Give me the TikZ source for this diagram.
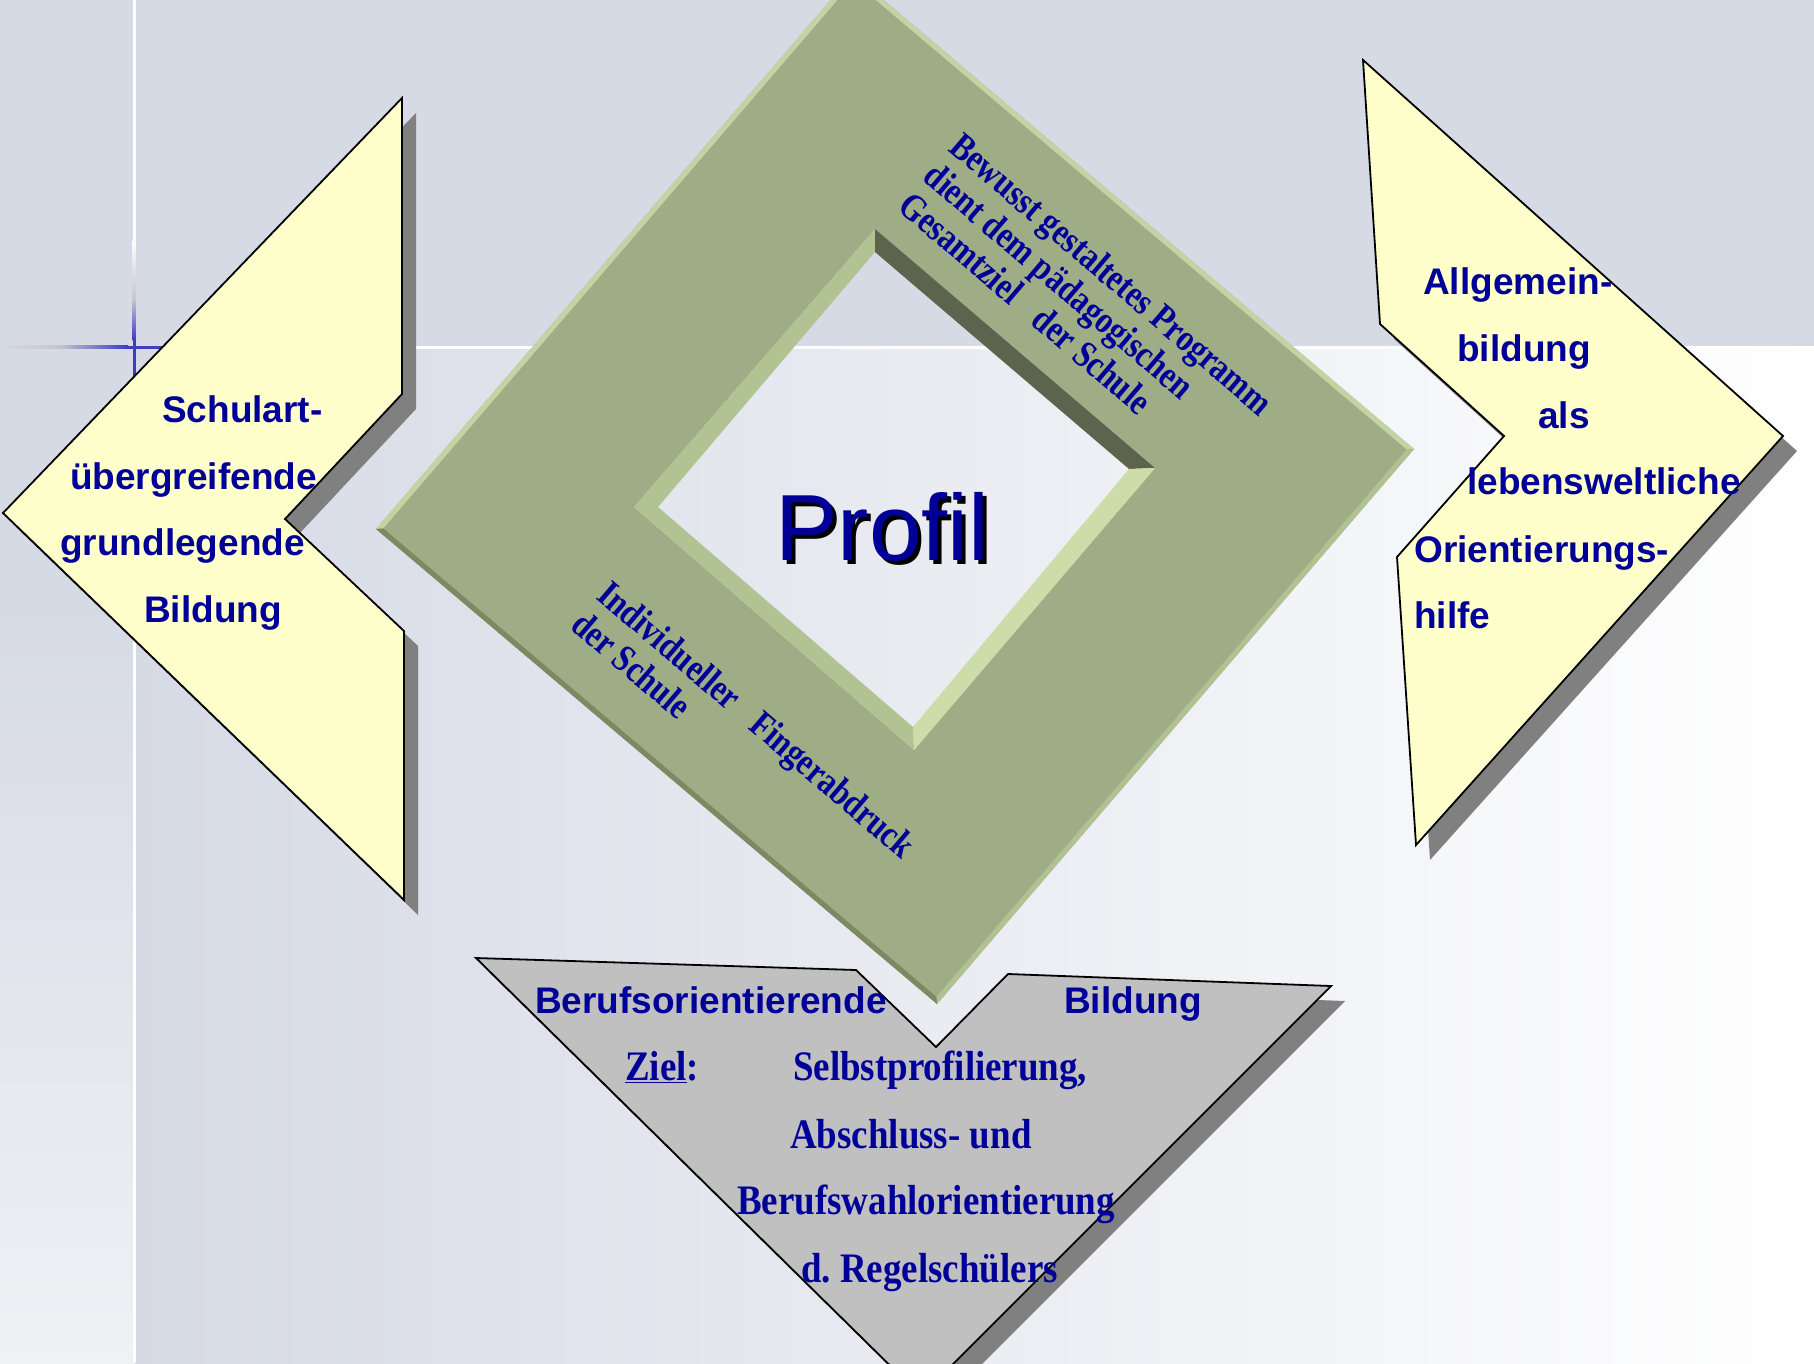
\documentclass[tikz,border=0pt]{standalone}
\usepackage{fontspec}
\setmainfont{Liberation Serif}
\setsansfont{Liberation Sans}
\usetikzlibrary{calc}
\definecolor{bgblue}{HTML}{D6DAE5}
\definecolor{bglight}{HTML}{F0F1F5}
\definecolor{txtblue}{HTML}{000099}
\definecolor{crossblue}{HTML}{3C3CC8}
\definecolor{linegray}{HTML}{C4C4CC}
\definecolor{framegreen}{HTML}{9EAD85}
\definecolor{edgelight}{HTML}{C3D3A3}
\definecolor{edgemid}{HTML}{B0C192}
\definecolor{edgedark}{HTML}{7C8963}
\definecolor{walldark}{HTML}{5C644D}
\definecolor{walllight}{HTML}{CCDDA9}
\definecolor{wallmid}{HTML}{B1C293}
\definecolor{yellowfill}{HTML}{FFFFCC}
\definecolor{grayfill}{HTML}{C0C0C0}
\definecolor{shadowgray}{HTML}{808080}
\frenchspacing
\begin{document}
\begin{tikzpicture}[x=1pt,y=-1pt,
  shapebox/.style={draw=black, line width=1.8pt, line join=miter},
  shadowbox/.style={fill=shadowgray},
  sanslabel/.style={font=\sffamily\bfseries\fontsize{37}{40}\selectfont, text=txtblue, inner sep=0pt, anchor=base west},
  seriflabel/.style={font=\rmfamily\bfseries\fontsize{42}{46}\selectfont, text=txtblue, inner sep=0pt, anchor=base west},
  ringlabel/.style={font=\rmfamily\bfseries\fontsize{38}{42}\selectfont, text=txtblue, inner sep=0pt, anchor=base west, rotate=-40.5},
  profillabel/.style={font=\sffamily\fontsize{94}{100}\selectfont, inner sep=0pt, anchor=base west}
]
\useasboundingbox (0,0) rectangle (1814,1363);
% ---------------- background
\fill[bgblue] (0,0) rectangle (1814,1363);
\shade[left color=bgblue, right color=white] (134,347) rectangle (1814,1363);
\shade[top color=bgblue, bottom color=bglight] (0,600) rectangle (134,1363);
% vertical line
\fill[white] (132.5,0) rectangle (135.5,240);
\shade[top color=white, bottom color=linegray] (132.5,240) rectangle (135.5,300);
\shade[top color=linegray, bottom color=crossblue] (132.5,300) rectangle (135.5,340);
\fill[crossblue] (132.5,340) rectangle (135.5,400);
\fill[white] (132.5,600) rectangle (135.5,1363);
% horizontal line
\shade[left color=bgblue, right color=linegray] (0,345.5) rectangle (60,348.5);
\shade[left color=linegray, right color=crossblue] (60,345.5) rectangle (128,348.5);
\fill[crossblue] (128,345.5) rectangle (175,348.5);
\fill[white] (380,345.5) rectangle (1814,348.5);
% ---------------- frame
\coordinate (c) at (895,489);
\coordinate (oT) at (853,-26);
\coordinate (oR) at (1414,449);
\coordinate (oB) at (937,1004);
\coordinate (oL) at (376,529);
\coordinate (iT) at (875,229);
\coordinate (iR) at (1155,468);
\coordinate (iB) at (914,750);
\coordinate (iL) at (634,507);
\coordinate (hT) at (875,252);
\coordinate (hR) at (1129,469);
\coordinate (hB) at (913,727);
\coordinate (hL) at (658,507);
\coordinate (pT) at ($(c)!0.986!(oT)$);
\coordinate (pR) at ($(c)!0.986!(oR)$);
\coordinate (pB) at ($(c)!0.986!(oB)$);
\coordinate (pL) at ($(c)!0.986!(oL)$);
\fill[framegreen, even odd rule] (oT)--(oR)--(oB)--(oL)--cycle (iT)--(iR)--(iB)--(iL)--cycle;
\fill[edgelight] (oL)--(oT)--(pT)--(pL)--cycle;
\fill[edgelight] (oT)--(oR)--(pR)--(pT)--cycle;
\fill[edgemid] (oR)--(oB)--(pB)--(pR)--cycle;
\fill[edgedark] (oB)--(oL)--(pL)--(pB)--cycle;
\fill[wallmid] (iL)--(iT)--(hT)--(hL)--cycle;
\fill[walldark] (iT)--(iR)--(hR)--(hT)--cycle;
\fill[walllight] (iR)--(iB)--(hB)--(hR)--cycle;
\fill[wallmid] (iB)--(iL)--(hL)--(hB)--cycle;
% ring texts
\node[ringlabel] (r1) at (947,150) {\scalebox{0.83}[1]{Bewusst gestaltetes Programm}};
\node[ringlabel] (r2) at (921.7,179.6) {\scalebox{0.83}[1]{dient dem pädagogischen}};
\node[ringlabel] (r3) at (896.4,209.3) {\scalebox{0.83}[1]{Gesamtziel\hspace*{32pt}der Schule}};
\node[ringlabel] (r4) at (595,598) {\scalebox{0.83}[1]{Individueller\hspace*{30pt}Fingerabdruck}};
\node[ringlabel] (r5) at (569,628) {\scalebox{0.83}[1]{der Schule}};
% Profil
\node[profillabel, text=black] (profs) at (779,564) {Profil};
\node[profillabel, text=txtblue] (prof) at (775,560) {Profil};
% ---------------- left shape
\fill[shadowbox, shift={(14,15)}] (402,98)--(402,394)--(285,519)--(404,631)--(404,900)--(3,513)--cycle;
\filldraw[shapebox, fill=yellowfill] (402,98)--(402,394)--(285,519)--(404,631)--(404,900)--(3,513)--cycle;
\node[sanslabel] (l1) at (162,422) {Schulart-};
\node[sanslabel] (l2) at (70,489) {übergreifende};
\node[sanslabel] (l3) at (60,555) {grundlegende};
\node[sanslabel] (l4) at (144,622) {Bildung};
% ---------------- right shape
\fill[shadowbox, shift={(14,15)}] (1363,60)--(1783,436)--(1416,845)--(1397,557)--(1504,436)--(1380,324)--cycle;
\filldraw[shapebox, fill=yellowfill] (1363,60)--(1783,436)--(1416,845)--(1397,557)--(1504,436)--(1380,324)--cycle;
\node[sanslabel] (a1) at (1423,294) {Allgemein-};
\node[sanslabel] (a2) at (1457,361) {bildung};
\node[sanslabel] (a3) at (1538,428) {als};
\node[sanslabel] (a4) at (1467,494) {lebensweltliche};
\node[sanslabel] (a5) at (1414,562) {Orientierungs-};
\node[sanslabel] (a6) at (1414,628) {hilfe};
% ---------------- bottom shape
\fill[shadowbox, shift={(14,15)}] (476,958)--(856,970)--(936,1047)--(1008,974)--(1331,986)--(921,1396)--cycle;
\filldraw[shapebox, fill=grayfill] (476,958)--(856,970)--(936,1047)--(1008,974)--(1331,986)--(921,1396)--cycle;
\node[sanslabel] (b1) at (535,1013) {Berufsorientierende};
\node[sanslabel] (b2) at (1064,1013) {Bildung};
\node[seriflabel] (b3) at (625,1080) {\scalebox{0.88}[1]{\underline{Ziel}:}};
\node[seriflabel] (b4) at (793,1080) {\scalebox{0.88}[1]{Selbstprofilierung,}};
\node[seriflabel] (b5) at (790,1148) {\scalebox{0.88}[1]{Abschluss- und}};
\node[seriflabel] (b6) at (737,1214) {\scalebox{0.88}[1]{Berufswahlorientierung}};
\node[seriflabel] (b7) at (801,1282) {\scalebox{0.88}[1]{d. Regelschülers}};
\end{tikzpicture}
\end{document}
